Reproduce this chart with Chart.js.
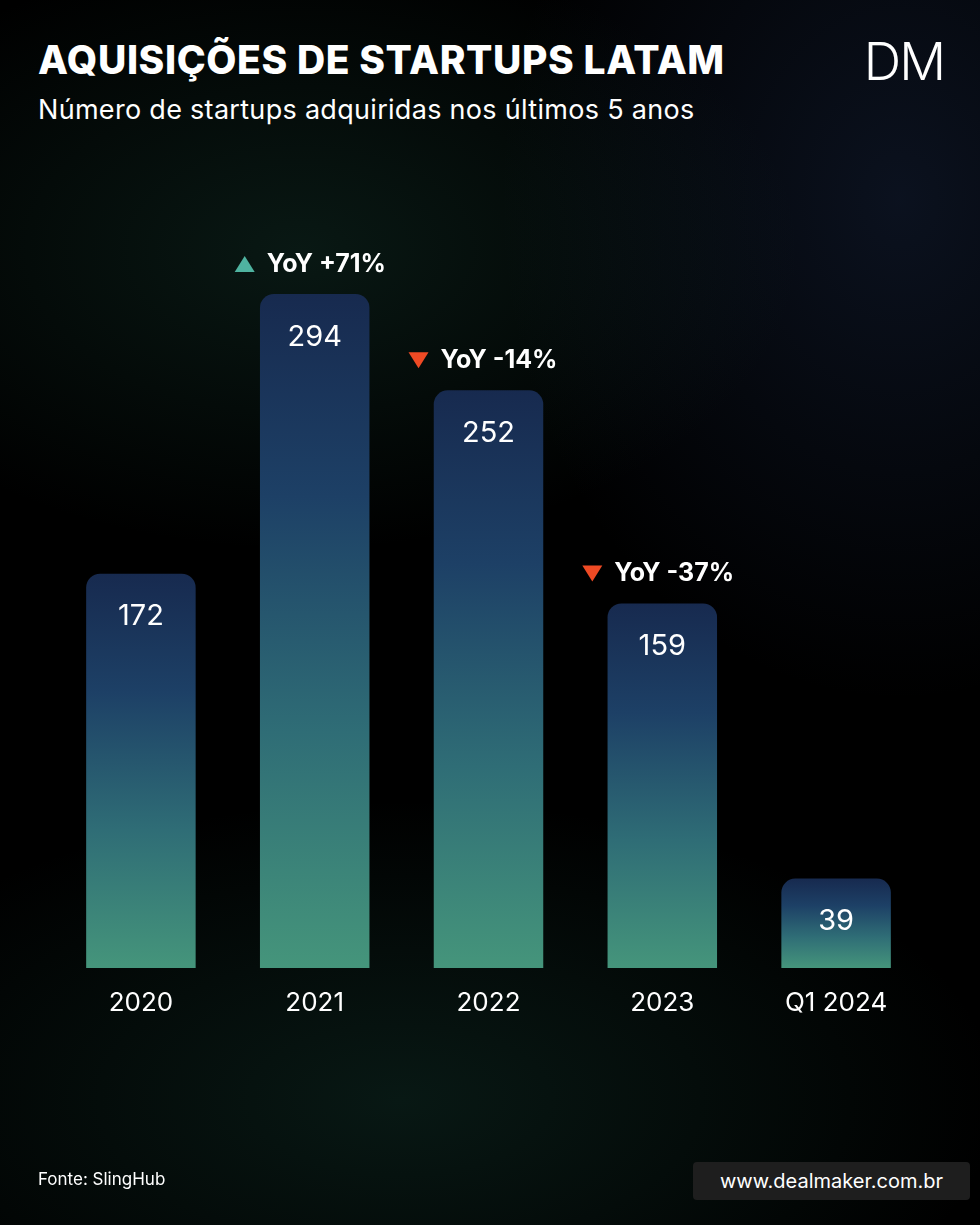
<!DOCTYPE html>
<html><head><meta charset="utf-8">
<script src="https://cdn.jsdelivr.net/npm/chart.js@4.4.0/dist/chart.umd.min.js"></script>
<style>
html,body{margin:0;padding:0;background:#000;}
#wrap{position:relative;width:980px;height:1225px;overflow:hidden;
 background:radial-gradient(ellipse 500px 300px at 300px 250px,rgba(40,110,90,0.22),transparent),
 radial-gradient(ellipse 400px 500px at 900px 200px,rgba(50,80,140,0.22),transparent),
 radial-gradient(ellipse 600px 300px at 400px 1100px,rgba(40,120,100,0.2),transparent),#000;
 font-family:Inter,"Noto Sans",sans-serif;color:#fff;}
h1{position:absolute;left:38px;top:36px;margin:0;font-size:39px;font-weight:800;letter-spacing:0.6px;}
.sub{position:absolute;left:38px;top:93px;font-size:27px;letter-spacing:0.3px;}
.logo{position:absolute;right:36px;top:30px;font-size:52px;font-weight:300;letter-spacing:-2px;}
.src{position:absolute;left:38px;top:1169px;font-size:17px;}
.url{position:absolute;left:693px;top:1162px;width:277px;height:38px;background:#1e1e1e;border-radius:4px;font-size:20px;line-height:38px;text-align:center;}
#c{position:absolute;left:0;top:0;}
</style></head><body>
<div id="wrap">
<h1>AQUISIÇÕES DE STARTUPS LATAM</h1>
<div class="sub">Número de startups adquiridas nos últimos 5 anos</div>
<div class="logo">DM</div>
<canvas id="c" width="980" height="1225"></canvas>
<div class="src">Fonte: SlingHub</div>
<div class="url">www.dealmaker.com.br</div>
</div>
<script>
const categories = ["2020", "2021", "2022", "2023", "Q1 2024"];
const acquisitions = [172, 294, 252, 159, 39];
const yoyLabels = [null, "YoY +71%", "YoY -14%", "YoY -37%", null];

const annotate = {
  id: "annotate",
  afterDatasetsDraw(chart) {
    const ctx = chart.ctx;
    chart.getDatasetMeta(0).data.forEach((bar, i) => {
      ctx.save();
      ctx.fillStyle = "#fff";
      ctx.textAlign = "center";
      ctx.textBaseline = "middle";
      ctx.font = "29px Inter, sans-serif";
      ctx.fillText(acquisitions[i], bar.x, bar.y + 43);
      ctx.font = "26px Inter, sans-serif";
      ctx.fillText(categories[i], bar.x, chart.chartArea.bottom + 35);
      const yoy = yoyLabels[i];
      if (yoy) {
        const up = yoy.includes("+");
        const ty = bar.y - 30;
        const tx = bar.x - 70;
        ctx.fillStyle = up ? "#4fb3a0" : "#ef4a24";
        ctx.beginPath();
        if (up) { ctx.moveTo(tx - 10, ty + 8); ctx.lineTo(tx + 10, ty + 8); ctx.lineTo(tx, ty - 8); }
        else { ctx.moveTo(tx - 10, ty - 8); ctx.lineTo(tx + 10, ty - 8); ctx.lineTo(tx, ty + 8); }
        ctx.fill();
        ctx.fillStyle = "#fff";
        ctx.font = "bold 25px Inter, sans-serif";
        ctx.textAlign = "left";
        ctx.fillText(yoy, tx + 22, ty);
      }
      ctx.restore();
    });
  }
};

const ctx = document.getElementById("c").getContext("2d");
new Chart(ctx, {
  type: "bar",
  data: {
    labels: categories,
    datasets: [{
      data: acquisitions,
      backgroundColor: (c) => {
        const a = c.chart.chartArea;
        if (!a || !c.chart.scales.y) return "#2a5a70";
        const top = c.chart.scales.y.getPixelForValue(acquisitions[c.dataIndex]);
        const g = c.chart.ctx.createLinearGradient(0, top, 0, a.bottom);
        g.addColorStop(0, "#172a4f");
        g.addColorStop(0.3, "#1d4066");
        g.addColorStop(0.65, "#2f6d76");
        g.addColorStop(1, "#45957b");
        return g;
      },
      borderRadius: { topLeft: 14, topRight: 14 },
      borderSkipped: "bottom",
      barPercentage: 0.63,
      categoryPercentage: 1
    }]
  },
  options: {
    responsive: false,
    animation: false,
    layout: { padding: { left: 54, right: 57, top: 200, bottom: 257 } },
    plugins: { legend: { display: false }, tooltip: { enabled: false } },
    scales: {
      x: { display: false },
      y: { display: false, min: 0, max: 335 }
    }
  },
  plugins: [annotate]
});
</script>
</body></html>
